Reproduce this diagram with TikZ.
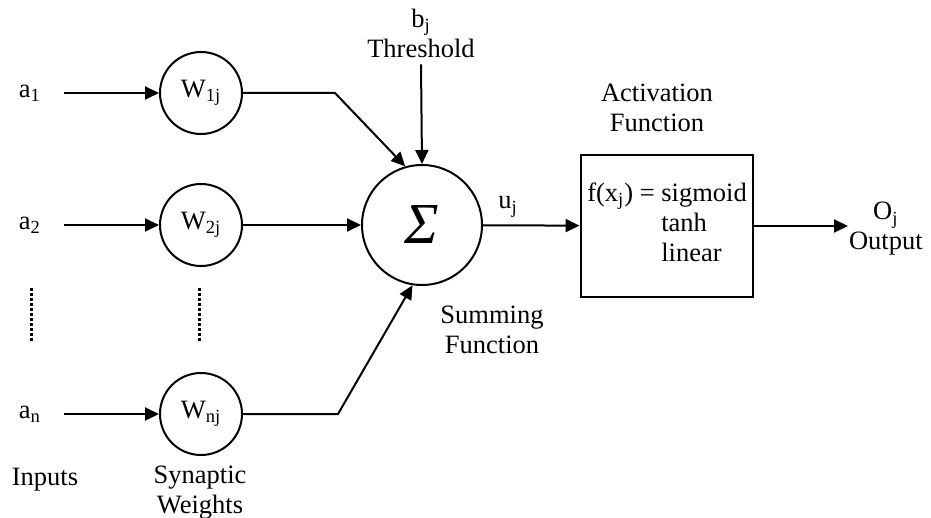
\documentclass[tikz,border=0pt]{standalone}
\usepackage{fontspec}
\setmainfont{Liberation Serif}
\usetikzlibrary{arrows.meta}
\begin{document}
\begin{tikzpicture}[x=0.5pt, y=-0.5pt, line width=1pt,
    font=\fontsize{13.25}{15}\selectfont,
    wnode/.style ={draw, circle, minimum size=41pt, inner sep=0pt},
    sumnode/.style={draw, circle, minimum size=60pt, inner sep=0pt, font=\fontsize{29}{29}\selectfont\itshape},
    actbox/.style ={draw, minimum width=85pt, minimum height=71pt, align=left},
    lbl/.style    ={inner sep=1pt, align=center},
    arr/.style    ={-{Triangle[length=7pt, width=6.5pt]}},
    dots/.style   ={line width=1.5pt, dash pattern=on 1.5pt off 1pt},
  ]
  \useasboundingbox (0,0) rectangle (931,518);

  % inputs
  \node[lbl] (a1) at (30,93)  {a\textsubscript{1}};
  \node[lbl] (a2) at (30,225) {a\textsubscript{2}};
  \node[lbl] (an) at (30,414) {a\textsubscript{n}};
  \node[lbl] (inp) at (45,480) {Inputs};

  % synaptic weights
  \node[wnode] (w1) at (201,93)  {W\textsubscript{1j}};
  \node[wnode] (w2) at (201,225) {W\textsubscript{2j}};
  \node[wnode] (wn) at (201,414) {W\textsubscript{nj}};
  \node[lbl] (syn) at (200,493) {Synaptic\\Weights};

  \draw[dots] (31,288) -- (31,343);
  \draw[dots] (199,288) -- (199,343);

  \draw[arr] ([xshift=10pt]a1.east) -- (w1);
  \draw[arr] ([xshift=10pt]a2.east) -- (w2);
  \draw[arr] ([xshift=10pt]an.east) -- (wn);

  % summing junction
  \node[sumnode] (sum) at (422,225) {\raisebox{-1pt}{Σ}};
  \node[lbl] (thr) at (421,33) {b\textsubscript{j}\\Threshold};
  \node[lbl] (sumf) at (492,330) {Summing\\Function};
  \node[lbl] (uj) at (508,207) {u\textsubscript{j}};

  \coordinate (k1) at (335,93);
  \coordinate (kn) at (338,414);
  \draw[arr] (w1.east) -- (k1) -- (sum.106);
  \draw[arr] (w2) -- (sum);
  \draw[arr] (wn.east) -- (kn) -- (sum.261);
  \draw[arr] ([yshift=-2pt]thr.south) -- (sum.north);

  % activation
  \node[actbox] (act) at (667,226)
    {f(x\textsubscript{j}) = sigmoid\\\phantom{f(x\textsubscript{j}) = }tanh\\\phantom{f(x\textsubscript{j}) = }linear};
  \node[lbl] (actf) at (657,108) {Activation\\Function};
  \node[lbl, anchor=west, inner sep=0pt] (out) at (848,229) {O\textsubscript{j}\\Output};

  \draw[arr] (sum) -- (act);
  \draw[arr] (act.east) -- (act.east -| out.west);
\end{tikzpicture}
\end{document}
